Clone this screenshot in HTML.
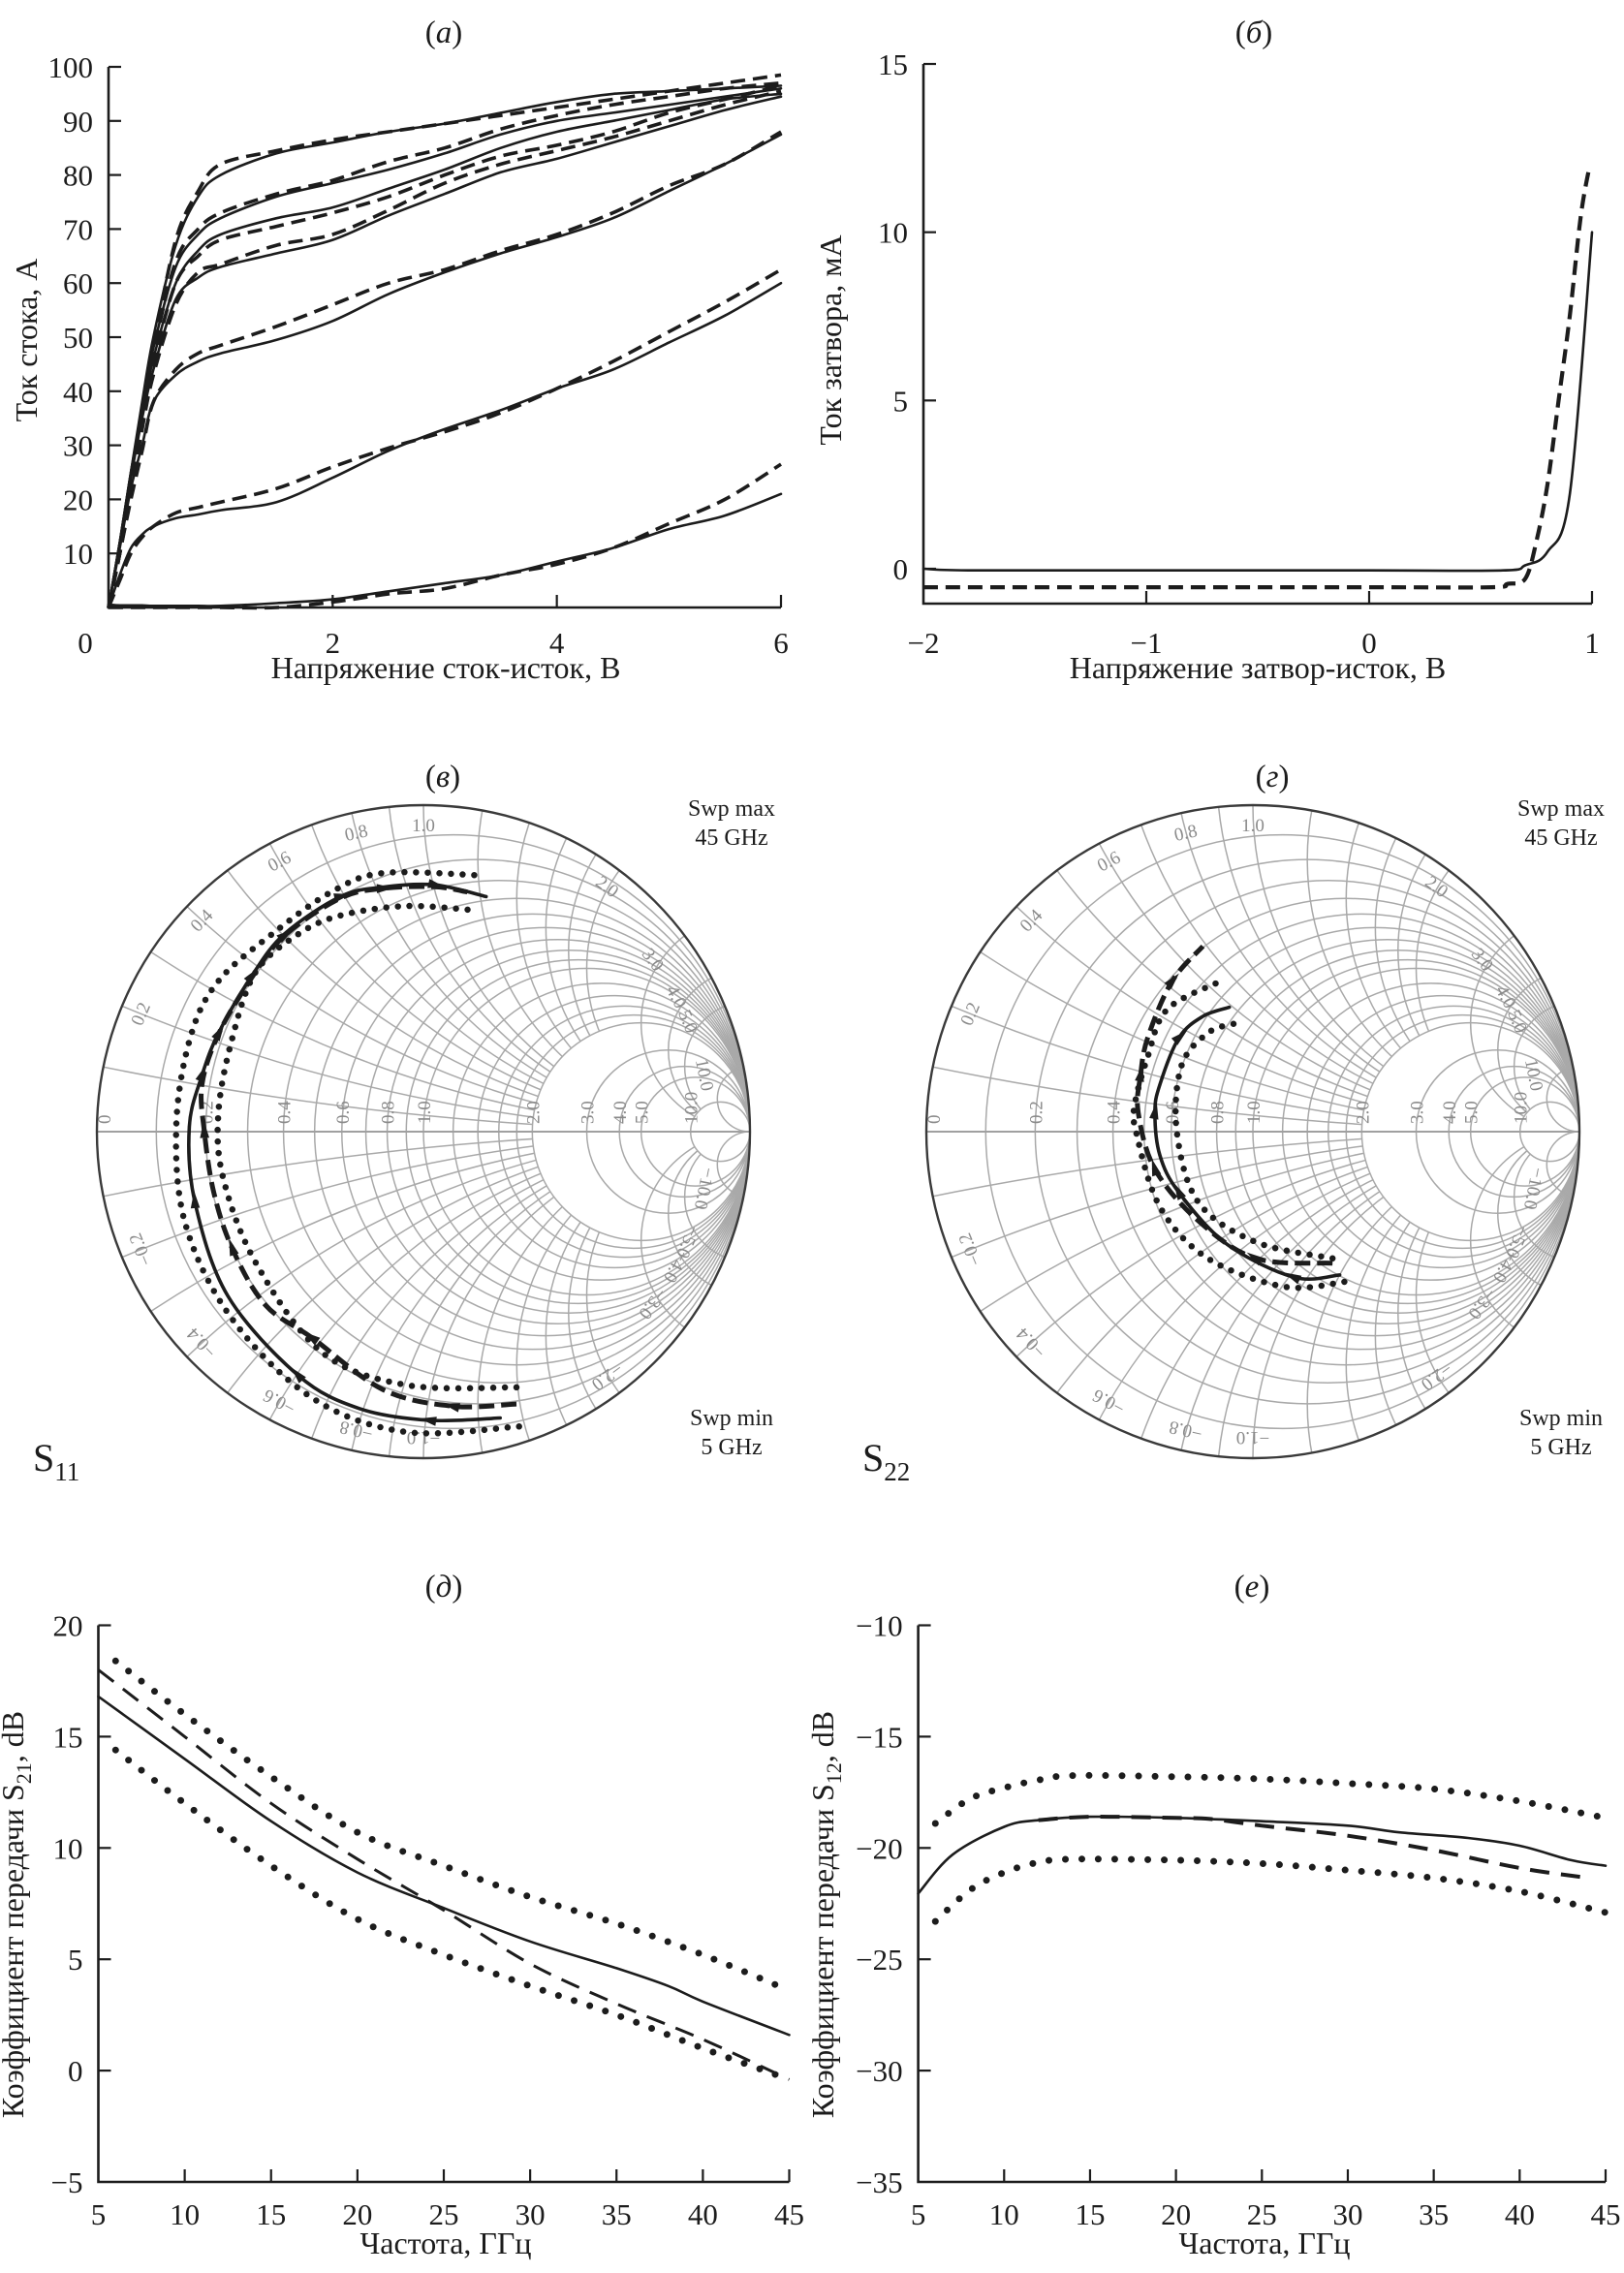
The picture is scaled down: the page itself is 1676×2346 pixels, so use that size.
<!DOCTYPE html>
<html><head><meta charset="utf-8"><title>Transistor characteristics</title>
<style>
html,body{margin:0;padding:0;background:#fff;overflow:hidden;}
svg{display:block;font-family:"Liberation Serif",serif;}
</style></head>
<body>
<svg id="fig" xmlns="http://www.w3.org/2000/svg" width="1676" height="2346" viewBox="0 0 1676 2346">
<rect x="0" y="0" width="1676" height="2346" fill="#fff"/>
<defs id="defs"></defs>
</svg>
<script>
// ---------- Panel (a): drain current vs drain-source voltage ----------
const ivVds = [0,0.1,0.2,0.3,0.4,0.6,0.8,1,1.5,2,2.5,3,3.5,4,4.5,5,5.5,6];
const ivSolid1 = [0,12,25,38,50,67,76,80,84,86,88,89.5,91.5,93.5,95,95.5,96,96.5];
const ivSolid2 = [0,12,25,37,48,63,69,72,76,78.5,81,84,87.5,90,91.5,93,94.5,96];
const ivSolid3 = [0,12,25,36,46,60,66,69,72,74,77.5,81,85,88,90,92,94,95];
const ivSolid4 = [0,12,24,35,44,57,61,63,65.5,68,72.5,76.5,80.5,83,86,89,92,94.5];
const ivSolid5 = [0,11,22,30,38,43,45.5,47,49.5,53,58,62,65.5,68.5,72,77,82,87.5];
const ivSolid6 = [0,6,11,13.5,15,16.5,17.2,18,19.5,24,29,33,36.5,40.5,44,49,54,60];
const ivSolid7 = [0.5,0.4,0.4,0.4,0.3,0.3,0.3,0.3,0.8,1.5,3,4.5,6,8.5,11,14.5,17,21];
const ivDash1 = [0,10,22,36,48,68,77,82,84.5,86.5,88,89.5,91,92.5,94,95.5,97,98.5];
const ivDash2 = [0,10,22,35,47,64,70,73,76.5,79,82.5,85,88.5,91,93,94.5,96,97];
const ivDash3 = [0,10,22,34,45,60,65,68,70.5,73,76,80,83.5,85.5,88,91.5,94,96.5];
const ivDash4 = [0,10,21,33,43,56,62,63.5,67,69,73.5,78.5,82,84.5,87,90,93,95.5];
const ivDash5 = [0,10,20,29,38,44,47,48.5,52,56,60,62.5,66,69,73,78,82,88];
const ivDash6 = [0,5,10,13,15,17.5,18.5,19.5,22,26,29.5,32.5,36,40.5,45.5,51,56.5,62.5];
const ivDash7 = [0,0,0,0,0,0,0,0,0,1,2.5,3.5,6,8,11,15.5,20,26.5];
const ivXTicks = [0,2,4,6];
const ivYTicks = [10,20,30,40,50,60,70,80,90,100];

// ---------- Panel (b): gate current vs gate-source voltage ----------
const igSolidV = [-2,-1.8,-1,0,0.6,0.7,0.8,0.9,1];
const igSolidI = [0,-0.05,-0.05,-0.05,-0.05,0.1,0.5,2.2,10];
const igDashV = [-2,-1,0,0.55,0.62,0.7,0.75,0.8,0.85,0.9,0.95,0.99];
const igDashI = [-0.55,-0.55,-0.55,-0.55,-0.45,-0.3,0.8,2.5,5,7.5,10.5,12];
const igXTicks = [-2,-1,0,1];
const igYTicks = [0,5,10,15];

// ---------- Panel (в): S11 ----------
const s11SolidRe = [0.235,0.02,-0.196,-0.383,-0.599,-0.70,-0.717,-0.678,-0.627,-0.527,-0.426,-0.254,-0.124,0.034,0.192];
const s11SolidIm = [-0.877,-0.884,-0.848,-0.747,-0.503,-0.215,0.015,0.173,0.303,0.475,0.605,0.72,0.749,0.756,0.72];
const s11DashRe = [0.285,0.091,-0.124,-0.34,-0.484,-0.585,-0.642,-0.671,-0.678,-0.627,-0.527,-0.426,-0.254,-0.124,0.034,0.134];
const s11DashIm = [-0.834,-0.841,-0.79,-0.632,-0.531,-0.359,-0.186,0.0,0.145,0.30,0.47,0.60,0.715,0.745,0.75,0.734];
const s11OuterRe = [0.293,-0.052,-0.34,-0.585,-0.728,-0.757,-0.714,-0.628,-0.455,-0.282,-0.124,0.178];
const s11OuterIm = [-0.903,-0.92,-0.816,-0.575,-0.287,0.015,0.288,0.461,0.612,0.734,0.792,0.785];
const s11InnerRe = [0.285,-0.052,-0.312,-0.513,-0.613,-0.628,-0.585,-0.513,-0.383,-0.254,-0.052,0.170];
const s11InnerIm = [-0.783,-0.776,-0.675,-0.402,-0.143,0.058,0.288,0.49,0.605,0.662,0.691,0.677];

// ---------- Panel (г): S22 ----------
const s22SolidRe = [0.266,0.126,-0.079,-0.226,-0.285,-0.30,-0.285,-0.226,-0.153,-0.072];
const s22SolidIm = [-0.439,-0.446,-0.345,-0.187,-0.072,0.058,0.144,0.288,0.353,0.381];
const s22DashRe = [0.244,0.009,-0.167,-0.30,-0.351,-0.344,-0.322,-0.248,-0.153];
const s22DashIm = [-0.403,-0.388,-0.273,-0.115,0.058,0.173,0.288,0.46,0.568];
const s22OuterRe = [0.28,0.097,-0.138,-0.285,-0.358,-0.361,-0.322,-0.263,-0.101];
const s22OuterIm = [-0.46,-0.475,-0.388,-0.23,0,0.086,0.23,0.374,0.46];
const s22InnerRe = [0.244,0.009,-0.167,-0.233,-0.219,-0.138,-0.057];
const s22InnerIm = [-0.388,-0.338,-0.216,0,0.201,0.302,0.331];

// ---------- Panel (д): S21 ----------
const s21Freq = [5,10,15,20,25,30,35,38,40,45];
const s21Solid = [16.8,14,11.2,8.9,7.3,5.8,4.6,3.8,3.1,1.6];
const s21DashFreq = [5,10,15,20,25,30,35,40,45];
const s21Dash = [18,15,12,9.5,7.2,4.8,3.0,1.4,-0.4];
const s21DotFreq = [6,10,15,20,25,30,35,40,45];
const s21Upper = [18.4,16,13.2,10.7,9.2,7.8,6.6,5.2,3.6];
const s21Lower = [14.4,12,9.2,6.8,5.2,3.8,2.5,1.0,-0.4];
const s21YTicks = [-5,0,5,10,15,20];
const freqTicks = [5,10,15,20,25,30,35,40,45];

// ---------- Panel (е): S12 ----------
const s12Freq = [5,7,10,12,15,20,25,30,33,37,40,43,45];
const s12Solid = [-22.05,-20.3,-19.05,-18.75,-18.6,-18.65,-18.8,-19.0,-19.3,-19.55,-19.9,-20.55,-20.8];
const s12DashFreq = [12,15,20,22,25,30,35,40,44];
const s12Dash = [-18.75,-18.6,-18.65,-18.7,-19.0,-19.45,-20.1,-20.9,-21.35];
const s12DotFreq = [6,8,10,12,14,20,25,30,35,40,45];
const s12Upper = [-18.9,-17.8,-17.3,-16.95,-16.75,-16.8,-16.9,-17.1,-17.35,-17.9,-18.65];
const s12Lower = [-23.3,-21.9,-21.1,-20.65,-20.5,-20.55,-20.7,-21.0,-21.35,-21.95,-22.9];
const s12YTicks = [-35,-30,-25,-20,-15,-10];

const NS = 'http://www.w3.org/2000/svg';
const svg = document.getElementById('fig');
const defs = document.getElementById('defs');
const INK = '#1c1c1c';

function mk(tag, attrs, parent) {
  const e = document.createElementNS(NS, tag);
  for (const k in attrs) e.setAttribute(k, attrs[k]);
  (parent || svg).appendChild(e);
  return e;
}
function smooth(pts) {
  if (pts.length < 2) return '';
  let d = 'M' + pts[0][0].toFixed(1) + ',' + pts[0][1].toFixed(1);
  for (let i = 0; i < pts.length - 1; i++) {
    const p0 = pts[Math.max(0, i - 1)], p1 = pts[i], p2 = pts[i + 1], p3 = pts[Math.min(pts.length - 1, i + 2)];
    const c1x = p1[0] + (p2[0] - p0[0]) / 6, c1y = p1[1] + (p2[1] - p0[1]) / 6;
    const c2x = p2[0] - (p3[0] - p1[0]) / 6, c2y = p2[1] - (p3[1] - p1[1]) / 6;
    d += ' C' + c1x.toFixed(1) + ',' + c1y.toFixed(1) + ' ' + c2x.toFixed(1) + ',' + c2y.toFixed(1) + ' ' + p2[0].toFixed(1) + ',' + p2[1].toFixed(1);
  }
  return d;
}
function txt(parent, x, y, s, size, anchor, extra) {
  const a = {x: x, y: y, 'font-size': size, 'text-anchor': anchor || 'middle', fill: INK};
  if (extra) for (const k in extra) a[k] = extra[k];
  const t = mk('text', a, parent);
  t.textContent = s;
  return t;
}
function fmt(v) { return v < 0 ? '\u2212' + Math.abs(v) : String(v); }
const STY = {
  solid: {stroke: INK, 'stroke-width': 2.6, fill: 'none', 'stroke-linejoin': 'round', 'stroke-linecap': 'round'},
  dash: {stroke: INK, 'stroke-width': 3.6, fill: 'none', 'stroke-dasharray': '15 8'},
  dot: {stroke: INK, 'stroke-width': 7, fill: 'none', 'stroke-dasharray': '0 17', 'stroke-linecap': 'round'}
};

function axes(g, L, xTicks, yTicks, xLabFn, yLabFn, labelGap) {
  const ax = mk('path', {d: 'M' + L.x0 + ',' + L.yTop + ' L' + L.x0 + ',' + L.yBot + ' L' + L.x1 + ',' + L.yBot, stroke: INK, 'stroke-width': 2.6, fill: 'none'}, g);
  
  
  xTicks.forEach(v => {
    const X = L.sx(v);
    if (Math.abs(X - L.x0) > 2) {
      const t = mk('line', {x1: X, x2: X, y1: L.yBot, y2: L.yBot - 13, stroke: INK, 'stroke-width': 2.2}, g);
      
      
    }
    const lb = txt(g, xLabFn ? xLabFn(v, X) : X, L.xLabY, fmt(v), 31);
    
    
  });
  yTicks.forEach(v => {
    const Y = L.sy(v);
    if (Math.abs(Y - L.yBot) > 2) {
      const t = mk('line', {x1: L.x0, x2: L.x0 + 13, y1: Y, y2: Y, stroke: INK, 'stroke-width': 2.2}, g);
      
      
    }
    if (yLabFn && !yLabFn(v)) return;
    const lb = txt(g, L.x0 - (labelGap || 16), Y + 11, fmt(v), 31, 'end');
    
    
  });
}
function series(g, xsArr, ysArr, L, style, name) {
  const pts = xsArr.map((x, i) => [L.sx(x), L.sy(ysArr[i])]);
  const p = mk('path', Object.assign({d: smooth(pts)}, STY[style]), g);
  
  
  return p;
}
function title(g, x, y, letter) {
  const t = mk('text', {x: x, y: y, 'font-size': 33, 'text-anchor': 'middle', fill: INK}, g);
  t.appendChild(document.createTextNode('('));
  const it = mk('tspan', {'font-style': 'italic'}, t); it.textContent = letter;
  t.appendChild(document.createTextNode(')'));
  
  
}
function yTitle(g, x, y, main, sub, tail) {
  const t = mk('text', {x: 0, y: 0, 'font-size': 32, 'text-anchor': 'middle', fill: INK, transform: 'translate(' + x + ',' + y + ') rotate(-90)'}, g);
  t.appendChild(document.createTextNode(main));
  if (sub) {
    const s = mk('tspan', {'font-size': 22, dy: 8}, t); s.textContent = sub;
    const r = mk('tspan', {dy: -8}, t); r.textContent = tail;
  }
  
  
}
function xTitle(g, x, y, s) {
  const t = txt(g, x, y, s, 32);
  
  
}

// ===== Panel (a) =====
(function () {
  const g = mk('g', {});
  
  
  const L = {x0: 112, x1: 806, yTop: 69, yBot: 627, xLabY: 674};
  L.sx = v => 112 + (v - 0) / 6 * (806 - 112);
  L.sy = v => 627 - v / 100 * (627 - 69);
  title(g, 458, 44, 'a');
  axes(g, L, ivXTicks, ivYTicks, (v, X) => v === 0 ? 88 : X);
  yTitle(g, 38, 351, 'Ток стока, А');
  xTitle(g, 460, 700, 'Напряжение сток-исток, В');
  [ivSolid1, ivSolid2, ivSolid3, ivSolid4, ivSolid5, ivSolid6, ivSolid7].forEach((s, i) => series(g, ivVds, s, L, 'solid', 'measured-curve-' + (i + 1)));
  [ivDash1, ivDash2, ivDash3, ivDash4, ivDash5, ivDash6, ivDash7].forEach((s, i) => series(g, ivVds, s, L, 'dash', 'model-curve-' + (i + 1)));
})();

// ===== Panel (б) =====
(function () {
  const g = mk('g', {});
  
  
  const L = {x0: 953, x1: 1643, yTop: 66, yBot: 623, xLabY: 674};
  L.sx = v => 953 + (v + 2) / 3 * (1643 - 953);
  L.sy = v => 587 - v * (587 - 66) / 15;
  title(g, 1294, 44, 'б');
  axes(g, L, igXTicks, igYTicks, null, null, 16);
  yTitle(g, 868, 351, 'Ток затвора, мА');
  xTitle(g, 1298, 700, 'Напряжение затвор-исток, В');
  series(g, igSolidV, igSolidI, L, 'solid', 'measured-gate-current');
  const d = series(g, igDashV, igDashI, L, 'dash', 'model-gate-current');
  d.setAttribute('stroke-width', 4.2);
})();

// ===== Smith charts =====
function smith(cx, cy, R, id, letter, sLabel, data) {
  const g = mk('g', {});
  
  
  const gx = v => cx + v * R, gy = v => cy - v * R;
  const cp = mk('clipPath', {id: 'uc' + id}, defs);
  mk('circle', {cx: cx, cy: cy, r: R}, cp);
  function maskFor(rr) {
    const mid = 'm' + id + String(rr).replace('.', '_');
    if (document.getElementById(mid)) return mid;
    const m = mk('mask', {id: mid, maskUnits: 'userSpaceOnUse', x: 0, y: 0, width: 1676, height: 2346}, defs);
    mk('rect', {x: 0, y: 0, width: 1676, height: 2346, fill: '#fff'}, m);
    mk('circle', {cx: gx(rr / (1 + rr)), cy: cy, r: R / (1 + rr), fill: '#000'}, m);
    return mid;
  }
  const grid = mk('g', {'clip-path': 'url(#uc' + id + ')', stroke: '#a9a9a9', 'stroke-width': 1.5, fill: 'none'}, g);
  
  
  const rVals = [0.1,0.2,0.3,0.4,0.5,0.6,0.7,0.8,0.9,1,1.2,1.4,1.6,1.8,2,3,4,5,10];
  rVals.forEach(r => {
    const c = mk('circle', {cx: gx(r / (1 + r)), cy: cy, r: R / (1 + r)}, grid);
    
    
  });
  const xVals = [0.1,0.2,0.3,0.4,0.5,0.6,0.7,0.8,0.9,1,1.2,1.4,1.6,1.8,2,3,4,5,10];
  xVals.forEach(x => {
    [1, -1].forEach(sg => {
      let lim = x <= 2 ? 2 : (x <= 5 ? 10 : 0);
      const a = {cx: gx(1), cy: gy(sg / x), r: R / x};
      if (lim) a.mask = 'url(#' + maskFor(lim) + ')';
      const c = mk('circle', a, grid);
      
      
    });
  });
  const hz = mk('line', {x1: cx - R, x2: cx + R, y1: cy, y2: cy, stroke: '#a0a0a0', 'stroke-width': 2}, g);
  
  
  const oc = mk('circle', {cx: cx, cy: cy, r: R, fill: 'none', stroke: '#3a3a3a', 'stroke-width': 2.4}, g);
  
  
  const lbl = [0,0.2,0.4,0.6,0.8,1.0,2.0,3.0,4.0,5.0,10.0];
  lbl.forEach(r => {
    const X = gx((r - 1) / (r + 1)) + (r === 0 ? 14 : 7);
    const t = mk('text', {x: 0, y: 0, 'font-size': 19, fill: '#8a8a8a', transform: 'translate(' + X + ',' + (cy - 8) + ') rotate(-90)'}, g);
    t.textContent = r === 0 ? '0' : r.toFixed(1);
    
    
  });
  const rim = [0.2,0.4,0.6,0.8,1.0,2.0,3.0,4.0,5.0,10.0];
  rim.forEach(x => {
    [1, -1].forEach(sg => {
      const xx = sg * x;
      const re = (xx * xx - 1) / (xx * xx + 1), im = 2 * xx / (xx * xx + 1);
      const ang = Math.atan2(-im, re) * 180 / Math.PI;
      const k = x >= 3 ? 0.86 : 0.92;
      const X = gx(re * k), Y = gy(im * k);
      const t = mk('text', {x: 0, y: 0, 'font-size': 19, fill: '#8a8a8a', 'text-anchor': 'middle', transform: 'translate(' + X.toFixed(1) + ',' + Y.toFixed(1) + ') rotate(' + (ang + 90).toFixed(1) + ')'}, g);
      t.textContent = (sg < 0 ? '\u2212' : '') + x.toFixed(1);
      
      
    });
  });
  function curve(re, im, style, name, arrows) {
    const pts = re.map((v, i) => [gx(v), gy(im[i])]);
    const st = Object.assign({}, STY[style]);
    if (style === 'dot') { st['stroke-width'] = 6.5; st['stroke-dasharray'] = '0 12'; }
    if (style === 'solid') st['stroke-width'] = 3.6;
    if (style === 'dash') { st['stroke-width'] = 5; st['stroke-dasharray'] = '16 7'; }
    const p = mk('path', Object.assign({d: smooth(pts)}, st), g);
    
    
    if (arrows) {
      for (let i = 1; i < pts.length - 1; i += 2) {
        const a = Math.atan2(pts[i + 1][1] - pts[i][1], pts[i + 1][0] - pts[i][0]);
        const s = 8, X = pts[i][0], Y = pts[i][1];
        const pp = [[X + Math.cos(a) * s * 1.4, Y + Math.sin(a) * s * 1.4],
          [X + Math.cos(a + 2.5) * s, Y + Math.sin(a + 2.5) * s],
          [X + Math.cos(a - 2.5) * s, Y + Math.sin(a - 2.5) * s]];
        const tr = mk('polygon', {points: pp.map(q => q[0].toFixed(1) + ',' + q[1].toFixed(1)).join(' '), fill: INK}, g);
        
        
      }
    }
  }
  curve(data.outerRe, data.outerIm, 'dot', 'tolerance-outer');
  curve(data.innerRe, data.innerIm, 'dot', 'tolerance-inner');
  curve(data.dashRe, data.dashIm, 'dash', 'model-trace', true);
  curve(data.solidRe, data.solidIm, 'solid', 'measured-trace', true);
  const tt = [['Swp max', cy - 326], ['45 GHz', cy - 296], ['Swp min', cy + 303], ['5 GHz', cy + 333]];
  tt.forEach(a => {
    const t = txt(g, cx + 318, a[1], a[0], 24);
    
    
  });
  title(g, cx + 20, 812, letter);
  const s = mk('text', {x: sLabel, y: cy + 350, 'font-size': 40, fill: INK}, g);
  s.appendChild(document.createTextNode('S'));
  const sb = mk('tspan', {'font-size': 27, dy: 10}, s); sb.textContent = id === 'c' ? '11' : '22';
  
  
}
smith(437, 1168, 337, 'c', 'в', 34, {solidRe: s11SolidRe, solidIm: s11SolidIm, dashRe: s11DashRe, dashIm: s11DashIm, outerRe: s11OuterRe, outerIm: s11OuterIm, innerRe: s11InnerRe, innerIm: s11InnerIm});
smith(1293, 1168, 337, 'd', 'г', 890, {solidRe: s22SolidRe, solidIm: s22SolidIm, dashRe: s22DashRe, dashIm: s22DashIm, outerRe: s22OuterRe, outerIm: s22OuterIm, innerRe: s22InnerRe, innerIm: s22InnerIm});

// ===== Panel (д) =====
(function () {
  const g = mk('g', {});
  
  
  const L = {x0: 101.5, x1: 814.5, yTop: 1677.5, yBot: 2252, xLabY: 2296};
  L.sx = v => 101.5 + (v - 5) / 40 * (814.5 - 101.5);
  L.sy = v => 2252 - (v + 5) / 25 * (2252 - 1677.5);
  title(g, 458, 1648, 'д');
  axes(g, L, freqTicks, s21YTicks);
  yTitle(g, 24, 1976, 'Коэффициент передачи S', '21', ', dB');
  xTitle(g, 460, 2326, 'Частота, ГГц');
  series(g, s21DotFreq, s21Upper, L, 'dot', 'upper-tolerance');
  series(g, s21DotFreq, s21Lower, L, 'dot', 'lower-tolerance');
  const d = series(g, s21DashFreq, s21Dash, L, 'dash', 'model-s21');
  d.setAttribute('stroke-dasharray', '20 12'); d.setAttribute('stroke-width', 3);
  series(g, s21Freq, s21Solid, L, 'solid', 'measured-s21');
})();

// ===== Panel (е) =====
(function () {
  const g = mk('g', {});
  
  
  const L = {x0: 947.6, x1: 1657, yTop: 1677.5, yBot: 2252, xLabY: 2296};
  L.sx = v => 947.6 + (v - 5) / 40 * (1657 - 947.6);
  L.sy = v => 2252 - (v + 35) / 25 * (2252 - 1677.5);
  title(g, 1292, 1648, 'е');
  axes(g, L, freqTicks, s12YTicks);
  yTitle(g, 860, 1976, 'Коэффициент передачи S', '12', ', dB');
  xTitle(g, 1305, 2326, 'Частота, ГГц');
  series(g, s12DotFreq, s12Upper, L, 'dot', 'upper-tolerance');
  series(g, s12DotFreq, s12Lower, L, 'dot', 'lower-tolerance');
  const d = series(g, s12DashFreq, s12Dash, L, 'dash', 'model-s12');
  d.setAttribute('stroke-dasharray', '20 12'); d.setAttribute('stroke-width', 4);
  series(g, s12Freq, s12Solid, L, 'solid', 'measured-s12');
})();
</script>
</body></html>
